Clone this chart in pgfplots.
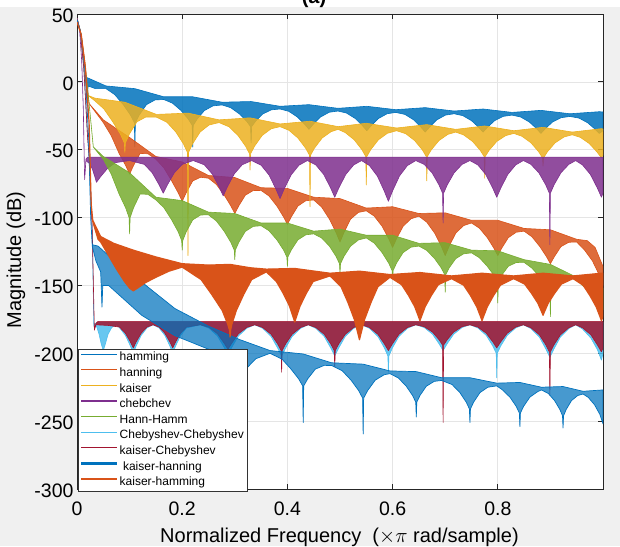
\documentclass[border=0pt]{standalone}
\usepackage{pgfplots}
\pgfplotsset{compat=1.18}
\usepackage{fontspec}
\setmainfont{Liberation Sans}
\definecolor{mblue}{HTML}{0072BD}
\definecolor{morange}{HTML}{D95319}
\definecolor{myellow}{HTML}{EDB120}
\definecolor{mpurple}{HTML}{7E2F8E}
\definecolor{mgreen}{HTML}{77AC30}
\definecolor{mcyan}{HTML}{4DBEEE}
\definecolor{mred}{HTML}{A2142F}
\definecolor{figgray}{HTML}{F0F0F0}
\pgfplotsset{
  band/.style={forget plot, mark=none, draw=#1, fill=#1, fill opacity=0.85, line width=0.6pt, line join=round},
  bandlight/.style={forget plot, mark=none, draw=#1, fill=#1, fill opacity=0.72, line width=0.7pt, line join=round},
  bandthick/.style={forget plot, mark=none, draw=#1, fill=#1, line width=1.2pt, line join=round},
}
\begin{document}
\begin{tikzpicture}
\fill[figgray] (-77pt,-57pt) rectangle (543pt,482.3pt);
\fill[white] (-77pt,482.3pt) rectangle (543pt,489pt);
\node[anchor=base, font=\bfseries\fontsize{20}{20}\selectfont] at (237pt,485.5pt) {(a)};
\begin{axis}[
  at={(0,0)}, anchor=south west,
  width=526pt, height=475pt, scale only axis,
  xmin=0, xmax=1, ymin=-300, ymax=50,
  xtick={0,0.2,0.4,0.6,0.8}, xticklabels={0,0.2,0.4,0.6,0.8},
  ytick={-300,-250,-200,-150,-100,-50,0,50},
  /pgf/number format/assume math mode=true,
  tick align=inside, major tick length=5pt,
  xtick pos=both, ytick pos=both,
  axis line style={draw=black!85, line width=0.8pt},
  tick style={black!85, line width=0.8pt},
  grid=major, major grid style={draw=black!10, line width=0.7pt},
  axis background/.style={fill=white},
  ticklabel style={font=\fontsize{19.5}{21}\selectfont},
  xticklabel style={anchor=base, yshift=-26pt},
  yticklabel style={yshift=-1.5pt},
  xlabel={Normalized Frequency\ \ ($\times\pi$ rad/sample)},
  ylabel={Magnitude (dB)},
  label style={font=\fontsize{20}{24}\selectfont},
  xlabel style={at={(axis description cs:0.499,-0.1126)}, anchor=base},
  ylabel style={at={(axis description cs:-0.116,0.482)}, anchor=center},
  legend style={at={(0.0025,-0.0057)}, anchor=south west, draw=black!80, line width=0.6pt, fill=white,
    font=\fontsize{12}{12}\selectfont, inner xsep=1.5pt, inner ysep=1pt, row sep=0pt,
    nodes={inner sep=1.8pt, text height=9pt, text depth=3pt}},
  legend cell align=left,
  legend image code/.code={\draw[#1] (0pt,3.6pt) -- (35.6pt,3.6pt);},
]
\addlegendimage{mblue, line width=1.3pt}\addlegendentry{hamming}
\addlegendimage{morange, line width=1.3pt}\addlegendentry{hanning}
\addlegendimage{myellow, line width=1.3pt}\addlegendentry{kaiser}
\addlegendimage{mpurple, line width=1.3pt}\addlegendentry{chebchev}
\addlegendimage{mgreen, line width=1.3pt}\addlegendentry{Hann-Hamm}
\addlegendimage{mcyan, line width=1.3pt}\addlegendentry{Chebyshev-Chebyshev}
\addlegendimage{mred, line width=1.3pt}\addlegendentry{kaiser-Chebyshev}
\addlegendimage{mblue, line width=2.2pt}\addlegendentry{\ kaiser-hanning}
\addlegendimage{morange, line width=2.2pt}\addlegendentry{kaiser-hamming}

% hamming
\addplot[band=mblue] coordinates {
(0,47)(0.006,38)(0.011,20)(0.015,3)(0.02,3)(0.055,-3)(0.11,-5)(0.165,-11)(0.22,-11)(0.276,-15)(0.331,-14.5)(0.386,-18)(0.441,-16.8)(0.496,-19.5)(0.551,-18)(0.606,-20.5)(0.662,-19)(0.717,-21.5)(0.772,-20)(0.827,-22.5)(0.882,-21)(0.937,-23.5)(0.993,-22)(1,-22.2)
(1,-36)(0.993,-38)(0.9847,-34.8)(0.971,-30.2)(0.9545,-26.7)(0.937,-25.5)(0.9205,-26.4)(0.904,-29.6)(0.8903,-34.5)(0.882,-38)(0.8737,-34.5)(0.860,-29.6)(0.8435,-25.9)(0.827,-24.5)(0.8105,-25.4)(0.794,-28.6)(0.7803,-33.5)(0.772,-37)(0.7637,-33.5)(0.750,-28.6)(0.7335,-24.9)(0.717,-23.5)(0.7005,-24.5)(0.684,-28)(0.6703,-33.3)(0.662,-37)(0.6537,-33.3)(0.640,-28)(0.6235,-24)(0.606,-22.5)(0.5895,-23.5)(0.573,-27)(0.5593,-32.3)(0.551,-36)(0.5427,-32.3)(0.529,-27)(0.5125,-23)(0.496,-21.5)(0.4795,-22.4)(0.463,-25.9)(0.4493,-31.2)(0.441,-35)(0.4327,-31.2)(0.419,-25.9)(0.4025,-21.7)(0.386,-20)(0.3695,-20.6)(0.353,-23.7)(0.3393,-29.1)(0.332,-33)(0.331,-45)(0.330,-33)(0.3227,-29.1)(0.309,-23.7)(0.2925,-19.1)(0.276,-17)(0.2585,-17.7)(0.242,-21.2)(0.2283,-27.5)(0.221,-32)(0.22,-48)(0.219,-32)(0.2117,-27.5)(0.198,-21.2)(0.1815,-15.7)(0.165,-13)(0.1485,-13.3)(0.132,-16.8)(0.1183,-24.5)(0.111,-30)(0.11,-48)(0.109,-30)(0.1017,-24.5)(0.088,-16.8)(0.0715,-9.3)(0.055,-5)(0.035,-5)(0.021,-3)(0.0195,-18)(0.017,-1)(0.015,3)(0.011,20)(0.006,38)(0,47)
};
% hanning
\addplot[band=morange] coordinates {
(0,44)(0.008,35)(0.015,15)(0.02,-5)(0.023,-16)(0.05,-28)(0.1,-41)(0.15,-55)(0.2,-59)(0.25,-69)(0.3,-70.5)(0.35,-78)(0.4,-78.5)(0.45,-85)(0.5,-86)(0.55,-93)(0.6,-92)(0.65,-97)(0.7,-96.5)(0.75,-102)(0.8,-102)(0.85,-108)(0.9,-109)(0.95,-116)(0.97,-117)(0.985,-122)(1,-136)
(1,-150)(0.9925,-142)(0.98,-132)(0.965,-124)(0.95,-118)(0.935,-118.2)(0.92,-121.4)(0.9075,-128.8)(0.9,-134)(0.8925,-128.8)(0.88,-121.4)(0.865,-114.2)(0.85,-110)(0.835,-110.8)(0.82,-114.8)(0.8075,-122.5)(0.8,-128)(0.7925,-122.5)(0.78,-114.8)(0.765,-107.8)(0.75,-104)(0.735,-105.9)(0.72,-111.5)(0.7075,-121.1)(0.7,-128)(0.6925,-121.1)(0.68,-111.5)(0.665,-103.4)(0.65,-99)(0.635,-100.9)(0.62,-106.4)(0.6075,-115.5)(0.6,-122)(0.5925,-115.5)(0.58,-106.4)(0.565,-98.9)(0.55,-95)(0.535,-96.2)(0.52,-101.2)(0.5075,-111)(0.5,-118)(0.4925,-111)(0.48,-101.2)(0.465,-92.2)(0.45,-87)(0.435,-87.6)(0.42,-91.5)(0.4075,-99.4)(0.4,-105)(0.3925,-99.4)(0.38,-91.5)(0.365,-84.1)(0.35,-80)(0.335,-80.1)(0.32,-83.5)(0.3075,-91.4)(0.3,-97)(0.2925,-91.4)(0.28,-83.5)(0.265,-75.6)(0.25,-71)(0.235,-70.3)(0.22,-73)(0.2075,-81.8)(0.2,-88)(0.1925,-81.8)(0.18,-73)(0.165,-63.3)(0.15,-57)(0.135,-53)(0.12,-52.7)(0.1075,-61.6)(0.1,-68)(0.0925,-61.6)(0.08,-52.7)(0.065,-39.6)(0.05,-30)(0.023,-16)(0.02,-5)(0.015,15)(0.008,35)(0,44)
};
% kaiser
\addplot[band=myellow] coordinates {
(0,47)(0.006,38)(0.012,15)(0.018,-6)(0.021,-10)(0.034,-12)(0.091,-15)(0.151,-24)(0.211,-23)(0.270,-28)(0.329,-26.5)(0.386,-31)(0.443,-29)(0.4965,-33)(0.550,-30.5)(0.6075,-34)(0.665,-31.5)(0.72,-35)(0.775,-32.5)(0.8305,-36)(0.886,-33.5)(0.9415,-37)(0.997,-34.5)(1,-34.7)
(1,-54)(0.997,-56)(0.9885,-51.6)(0.974,-45.5)(0.957,-40.9)(0.9415,-39)(0.926,-40.6)(0.909,-44.9)(0.8945,-51.4)(0.887,-56)(0.886,-62)(0.885,-56)(0.8775,-51.4)(0.863,-44.9)(0.846,-40.1)(0.8305,-38)(0.815,-39.6)(0.798,-43.9)(0.7835,-50.4)(0.776,-55)(0.775,-71)(0.774,-55)(0.7665,-50.4)(0.752,-43.9)(0.735,-39.1)(0.72,-37)(0.705,-38.7)(0.688,-43.3)(0.6735,-50.1)(0.666,-55)(0.665,-73)(0.664,-55)(0.6565,-50.1)(0.642,-43.3)(0.625,-38.2)(0.6075,-36)(0.590,-37.9)(0.573,-42.7)(0.5585,-49.9)(0.551,-55)(0.550,-76)(0.549,-55)(0.5415,-49.9)(0.527,-42.7)(0.510,-37.4)(0.4965,-35)(0.483,-36.7)(0.466,-41.4)(0.4515,-48.8)(0.444,-54)(0.443,-92)(0.442,-54)(0.4345,-48.8)(0.420,-41.4)(0.403,-35.7)(0.386,-33)(0.369,-34.6)(0.352,-39.5)(0.3375,-47.4)(0.330,-53)(0.329,-65)(0.328,-53)(0.3205,-47.4)(0.306,-39.5)(0.289,-33.1)(0.270,-30)(0.251,-31.8)(0.234,-37)(0.2195,-45.8)(0.212,-52)(0.211,-128)(0.210,-52)(0.2025,-45.8)(0.188,-37)(0.171,-29.8)(0.151,-26)(0.131,-25.9)(0.114,-29.4)(0.0995,-38.5)(0.092,-45)(0.091,-52)(0.090,-45)(0.0825,-38.5)(0.068,-29.4)(0.051,-19.9)(0.034,-14)(0.021,-10)(0.018,-6)(0.012,15)(0.006,38)(0,47)
};
% chebchev
\addplot[band=mpurple] coordinates {
(0,47)(0.005,38)(0.009,15)(0.012,-20)(0.0145,-72)(0.017,-57)(0.02,-55.5)(1,-55.5)
(1,-82)(0.997,-85)(0.989,-78)(0.976,-68.2)(0.961,-61.2)(0.948,-58)(0.935,-60.8)(0.920,-67)(0.907,-75.8)(0.900,-82)(0.899,-120)(0.898,-82)(0.891,-75.8)(0.878,-67)(0.863,-60.8)(0.8485,-58)(0.834,-61.2)(0.819,-68.2)(0.806,-78)(0.798,-85)(0.790,-78)(0.777,-68.2)(0.762,-61.2)(0.747,-58)(0.732,-60.8)(0.717,-67)(0.704,-75.8)(0.697,-82)(0.696,-104)(0.695,-82)(0.688,-75.8)(0.675,-67)(0.660,-60.8)(0.644,-58)(0.628,-61.7)(0.613,-69.4)(0.600,-80.3)(0.592,-88)(0.584,-80.3)(0.571,-69.4)(0.556,-61.7)(0.541,-58)(0.526,-61.2)(0.511,-68.2)(0.498,-78)(0.490,-85)(0.482,-78)(0.469,-68.2)(0.454,-61.2)(0.438,-58)(0.422,-61.4)(0.407,-68.6)(0.394,-78.8)(0.386,-86)(0.378,-78.8)(0.365,-68.6)(0.350,-61.4)(0.332,-58)(0.314,-61.1)(0.299,-67.8)(0.286,-77.3)(0.278,-84)(0.270,-77.3)(0.257,-67.8)(0.242,-61.1)(0.221,-58)(0.200,-60.8)(0.185,-67)(0.172,-75.8)(0.164,-82)(0.156,-75.8)(0.143,-67)(0.128,-60.8)(0.10,-58)(0.073,-59.5)(0.058,-63.8)(0.045,-69.8)(0.037,-74)(0.034,-70)(0.029,-64)(0.023,-60)(0.017,-58)(0.0145,-72)(0.012,-20)(0.009,15)(0.005,38)(0,47)
};
% Hann-Hamm
\addplot[band=mgreen] coordinates {
(0,46)(0.008,35)(0.016,10)(0.024,-20)(0.031,-48)(0.05,-55)(0.1,-67)(0.15,-85)(0.2,-87.5)(0.25,-96)(0.3,-97)(0.35,-104)(0.4,-104)(0.45,-110)(0.5,-108.5)(0.55,-113)(0.6,-113)(0.65,-119)(0.7,-118.5)(0.75,-124)(0.8,-124.5)(0.85,-131)(0.9,-134.5)(0.95,-144)(1,-152)
(1,-168)(0.99,-165)(0.975,-155)(0.95,-146)(0.935,-143.8)(0.92,-143.9)(0.9075,-148.6)(0.901,-152)(0.9,-173)(0.899,-152)(0.8925,-148.6)(0.88,-143.9)(0.865,-137.3)(0.85,-133)(0.835,-133.1)(0.82,-135.9)(0.8075,-142.4)(0.801,-147)(0.8,-163)(0.799,-147)(0.7925,-142.4)(0.78,-135.9)(0.765,-129.6)(0.75,-126)(0.735,-126.7)(0.72,-130.3)(0.7075,-137.1)(0.701,-142)(0.7,-155)(0.699,-142)(0.6925,-137.1)(0.68,-130.3)(0.665,-124.2)(0.65,-121)(0.635,-121.8)(0.62,-125.8)(0.6075,-133.5)(0.601,-139)(0.6,-145)(0.599,-139)(0.5925,-133.5)(0.58,-125.8)(0.565,-118.8)(0.55,-115)(0.535,-116.5)(0.52,-121.1)(0.5075,-128.6)(0.501,-134)(0.5,-141)(0.499,-134)(0.4925,-128.6)(0.48,-121.1)(0.465,-115)(0.45,-112)(0.435,-112.7)(0.42,-116.4)(0.4075,-123.8)(0.401,-129)(0.4,-136)(0.399,-129)(0.3925,-123.8)(0.38,-116.4)(0.365,-109.7)(0.35,-106)(0.335,-106.5)(0.32,-110.2)(0.3075,-118.3)(0.301,-124)(0.3,-131)(0.299,-124)(0.2925,-118.3)(0.28,-110.2)(0.265,-102.5)(0.25,-98)(0.235,-98.1)(0.22,-101.7)(0.2075,-110.6)(0.201,-117)(0.2,-124)(0.199,-117)(0.1925,-110.6)(0.18,-101.7)(0.165,-92.6)(0.15,-87)(0.135,-82.9)(0.12,-82.6)(0.1075,-92.8)(0.101,-100)(0.1,-112)(0.099,-100)(0.0925,-92.8)(0.08,-82.6)(0.065,-67.9)(0.05,-57)(0.031,-48)(0.024,-20)(0.016,10)(0.008,35)(0,46)
};
% Chebyshev-Chebyshev
\addplot[band=mcyan] coordinates {
(0,47)(0.006,38)(0.013,10)(0.02,-40)(0.024,-60)(0.029,-110)(0.032,-180)(0.035,-178)(0.04,-177)(1,-177)
(1,-200)(0.997,-205)(0.9893,-197.3)(0.977,-188.8)(0.961,-182.1)(0.948,-179)(0.935,-181.8)(0.919,-188)(0.9067,-196.8)(0.899,-203)(0.8913,-196.8)(0.879,-188)(0.863,-181.8)(0.8485,-179)(0.834,-181.3)(0.818,-186.8)(0.8057,-194.5)(0.799,-200)(0.798,-218)(0.797,-200)(0.7903,-194.5)(0.778,-186.8)(0.762,-181.3)(0.747,-179)(0.732,-181)(0.716,-186)(0.7037,-193)(0.696,-198)(0.6883,-193)(0.676,-186)(0.660,-181)(0.644,-179)(0.628,-181.6)(0.612,-187.6)(0.5997,-196)(0.593,-202)(0.592,-214)(0.591,-202)(0.5843,-196)(0.572,-187.6)(0.556,-181.6)(0.541,-179)(0.526,-181.6)(0.510,-187.6)(0.4977,-196)(0.490,-202)(0.4823,-196)(0.470,-187.6)(0.454,-181.6)(0.4395,-179)(0.425,-181.6)(0.409,-187.6)(0.3967,-196)(0.389,-202)(0.3813,-196)(0.369,-187.6)(0.353,-181.6)(0.338,-179)(0.323,-181.5)(0.307,-187.2)(0.2947,-195.3)(0.287,-201)(0.2793,-195.3)(0.267,-187.2)(0.251,-181.5)(0.2345,-179)(0.208,-181.3)(0.197,-186.8)(0.1876,-194.5)(0.182,-200)(0.1764,-194.5)(0.167,-186.8)(0.156,-181.3)(0.1445,-179)(0.133,-181.3)(0.122,-186.8)(0.1126,-194.5)(0.107,-200)(0.1014,-194.5)(0.092,-186.8)(0.081,-181.3)(0.075,-179)(0.066,-181)(0.059,-186)(0.054,-193)(0.05,-198)(0.046,-193)(0.042,-186)(0.038,-181)(0.035,-179)(0.032,-180)(0.029,-110)(0.024,-60)(0.02,-40)(0.013,10)(0.006,38)(0,47)
};
% kaiser-Chebyshev
\addplot[band=mred] coordinates {
(0,47)(0.006,38)(0.013,10)(0.02,-40)(0.024,-60)(0.029,-110)(0.033,-183)(0.036,-178)(0.04,-176.5)(1,-176.5)
(1,-196)(0.997,-199)(0.9893,-193.8)(0.977,-186.4)(0.961,-181.2)(0.948,-179)(0.935,-181.2)(0.919,-186.4)(0.9067,-193.8)(0.900,-199)(0.899,-231)(0.898,-199)(0.8913,-193.8)(0.879,-186.4)(0.863,-181.2)(0.8485,-179)(0.834,-180.7)(0.818,-185.2)(0.8057,-191.5)(0.798,-196)(0.7903,-191.5)(0.778,-185.2)(0.762,-180.7)(0.747,-179)(0.732,-180.4)(0.716,-184.4)(0.7037,-190)(0.697,-194)(0.696,-251)(0.695,-194)(0.6883,-190)(0.676,-184.4)(0.660,-180.4)(0.644,-179)(0.628,-181)(0.612,-186)(0.5997,-193)(0.592,-198)(0.5843,-193)(0.572,-186)(0.556,-181)(0.541,-179)(0.526,-181)(0.510,-186)(0.4977,-193)(0.491,-198)(0.490,-210)(0.489,-198)(0.4823,-193)(0.470,-186)(0.454,-181)(0.4395,-179)(0.425,-181)(0.409,-186)(0.3967,-193)(0.390,-198)(0.389,-214)(0.388,-198)(0.3813,-193)(0.369,-186)(0.353,-181)(0.338,-179)(0.323,-180.9)(0.307,-185.6)(0.2947,-192.3)(0.287,-197)(0.2793,-192.3)(0.267,-185.6)(0.251,-180.9)(0.2345,-179)(0.208,-180.7)(0.197,-185.2)(0.1876,-191.5)(0.182,-196)(0.1764,-191.5)(0.167,-185.2)(0.156,-180.7)(0.1445,-179)(0.133,-180.7)(0.122,-185.2)(0.1126,-191.5)(0.107,-196)(0.1014,-191.5)(0.092,-185.2)(0.081,-180.7)(0.06,-179.5)(0.036,-179)(0.033,-183)(0.029,-110)(0.024,-60)(0.02,-40)(0.013,10)(0.006,38)(0,47)
};
% kaiser-hanning
\addplot[bandlight=mblue] coordinates {
(0,46)(0.008,35)(0.016,5)(0.022,-40)(0.026,-100)(0.029,-120)(0.04,-121)(0.06,-128)(0.123,-147.5)(0.186,-167)(0.25,-180)(0.31,-190)(0.367,-198)(0.430,-200.5)(0.484,-207)(0.544,-208)(0.595,-213)(0.645,-213.5)(0.693,-218)(0.747,-218)(0.798,-222)(0.842,-221.5)(0.883,-225)(0.924,-224.5)(0.962,-228)(1,-227)
(1,-252)(0.994,-245)(0.984,-238)(0.972,-232.5)(0.962,-230)(0.952,-231.1)(0.940,-234.9)(0.930,-241.4)(0.925,-246)(0.924,-255)(0.923,-246)(0.918,-241.4)(0.908,-234.9)(0.896,-229.6)(0.883,-227)(0.876,-228.2)(0.861,-232.3)(0.849,-239.1)(0.843,-244)(0.842,-254)(0.841,-244)(0.835,-239.1)(0.823,-232.3)(0.808,-226.7)(0.798,-224)(0.781,-225)(0.766,-229)(0.754,-236)(0.748,-241)(0.747,-251)(0.746,-241)(0.740,-236)(0.728,-229)(0.713,-223)(0.693,-220)(0.679,-220.7)(0.664,-224.3)(0.652,-231.1)(0.646,-236)(0.645,-247)(0.644,-236)(0.638,-231.1)(0.626,-224.3)(0.611,-218.2)(0.595,-215)(0.584,-215.8)(0.567,-219.8)(0.5525,-227.5)(0.545,-233)(0.544,-259.5)(0.543,-233)(0.5355,-227.5)(0.521,-219.8)(0.504,-212.8)(0.484,-209)(0.470,-208.9)(0.453,-211.7)(0.4385,-218.9)(0.431,-224)(0.430,-251)(0.429,-224)(0.4215,-218.9)(0.407,-211.7)(0.390,-204.4)(0.367,-200)(0.34,-204)(0.325,-210)(0.315,-216)(0.305,-210)(0.29,-204)(0.25,-197)(0.186,-187)(0.123,-172)(0.06,-150)(0.049,-150)(0.0475,-166)(0.046,-150)(0.045,-140)(0.036,-132)(0.029,-121)(0.026,-100)(0.022,-40)(0.016,5)(0.008,35)(0,46)
};
% kaiser-hamming
\addplot[bandthick=morange] coordinates {
(0,44)(0.008,35)(0.016,10)(0.023,-30)(0.027,-90)(0.03,-102)(0.045,-114)(0.07,-119)(0.107,-124)(0.15,-129)(0.2,-134)(0.25,-135)(0.291,-134.5)(0.33,-137)(0.36,-138)(0.414,-137.5)(0.481,-141)(0.537,-139.5)(0.595,-142)(0.652,-140.5)(0.712,-143)(0.770,-141)(0.830,-143)(0.886,-141)(0.943,-143)(0.997,-141)(1,-141)
(1,-173)(0.997,-176)(0.994,-172.8)(0.987,-165.8)(0.975,-157.4)(0.962,-149.8)(0.943,-145)(0.921,-149)(0.908,-155.8)(0.896,-163)(0.889,-169.2)(0.886,-172)(0.883,-169.2)(0.876,-163)(0.864,-155.8)(0.851,-149)(0.830,-145)(0.805,-149.8)(0.792,-157.4)(0.780,-165.8)(0.773,-172.8)(0.770,-176)(0.767,-172.8)(0.760,-165.8)(0.748,-157.4)(0.735,-149.8)(0.712,-145)(0.687,-149.4)(0.674,-157.2)(0.662,-165.6)(0.655,-172.8)(0.652,-176)(0.649,-172.8)(0.642,-165.6)(0.630,-157.2)(0.617,-149.4)(0.595,-144)(0.572,-151)(0.559,-162.5)(0.547,-174.8)(0.540,-185.3)(0.537,-190)(0.534,-185.3)(0.527,-174.8)(0.515,-162.5)(0.502,-151)(0.481,-143)(0.449,-147.1)(0.436,-155.8)(0.424,-165.3)(0.417,-173.4)(0.414,-177)(0.411,-173.4)(0.404,-165.3)(0.392,-155.8)(0.379,-147.1)(0.36,-140)(0.332,-145.7)(0.317,-156.6)(0.303,-168.4)(0.2945,-178.5)(0.292,-183)(0.291,-188)(0.290,-183)(0.2865,-178.5)(0.276,-168.4)(0.256,-156.6)(0.236,-145.7)(0.2,-136.5)(0.175,-139.5)(0.15,-144)(0.13,-148)(0.115,-152)(0.107,-154)(0.1,-152)(0.09,-147)(0.075,-138)(0.06,-128)(0.045,-118)(0.04,-116)(0.03,-103)(0.027,-90)(0.023,-30)(0.016,10)(0.008,35)(0,44)
};
\end{axis}
\pgfresetboundingbox
\useasboundingbox (-77pt,-57pt) rectangle (543pt,489pt);
\end{tikzpicture}
\end{document}
